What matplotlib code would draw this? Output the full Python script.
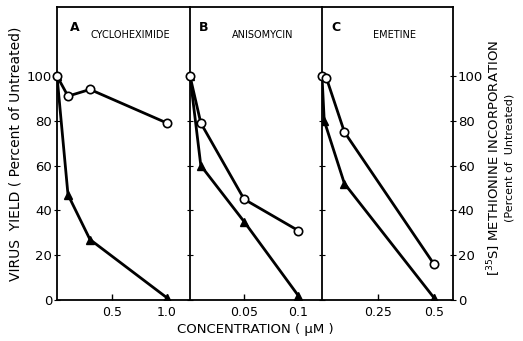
import matplotlib
matplotlib.use("Agg")
import matplotlib.pyplot as plt

# Panel A: cycloheximide
a_x_open = [0, 0.1, 0.3, 1.0]
a_y_open = [100, 91, 94, 79]
a_x_fill = [0, 0.1, 0.3, 1.0]
a_y_fill = [100, 47, 27, 1]
# Panel B: anisomycin
b_x_open = [0, 0.01, 0.05, 0.1]
b_y_open = [100, 79, 45, 31]
b_x_fill = [0, 0.01, 0.05, 0.1]
b_y_fill = [100, 60, 35, 2]
# Panel C: emetine
c_x_open = [0, 0.02, 0.1, 0.5]
c_y_open = [100, 99, 75, 16]
c_x_fill = [0, 0.01, 0.1, 0.5]
c_y_fill = [100, 80, 52, 1]

panels = [
    ("A", "CYCLOHEXIMIDE", a_x_open, a_y_open, a_x_fill, a_y_fill, [0.5, 1.0], ["0.5", "1.0"], 1.21),
    ("B", "ANISOMYCIN", b_x_open, b_y_open, b_x_fill, b_y_fill, [0.05, 0.1], ["0.05", "0.1"], 0.122),
    ("C", "EMETINE", c_x_open, c_y_open, c_x_fill, c_y_fill, [0.25, 0.5], ["0.25", "0.5"], 0.585),
]
yticks = [0, 20, 40, 60, 80, 100]

W, H = 523, 341
fig = plt.figure(figsize=(W / 100, H / 100), dpi=100)
lefts = [57, 190, 322]
rights = [190, 322, 453]
bottom, top = 300, 7
axes = []
for i, (letter, name, xo, yo, xf, yf, xt, xtl, xmax) in enumerate(panels):
    ax = fig.add_axes([lefts[i] / W, 1 - bottom / H, (rights[i] - lefts[i]) / W, (bottom - top) / H])
    ax.plot(xf, yf, color="black", lw=2, marker="^", ms=5.5, mfc="black", zorder=3)
    ax.plot(xo, yo, color="black", lw=2, marker="o", ms=6, mfc="white", mew=1.2, zorder=4, clip_on=False)
    ax.set_xlim(0, xmax)
    ax.set_ylim(0, 130.8)
    ax.set_xticks(xt)
    ax.set_xticklabels(xtl, fontsize=9)
    ax.tick_params(axis="x", direction="in", length=4, width=1, pad=4)
    ax.set_yticks(yticks)
    for s in ax.spines.values():
        s.set_linewidth(1.3)
    if i == 0:
        ax.tick_params(axis="y", direction="inout", length=5, labelsize=9.5, pad=1)
        ax.set_ylabel("VIRUS  YIELD ( Percent of Untreated)", fontsize=10, labelpad=3)
        ax.spines["right"].set_visible(False)
    elif i == 1:
        ax.tick_params(axis="y", direction="inout", length=5, labelleft=False)
        ax.spines["right"].set_visible(False)
    else:
        ax.tick_params(axis="y", direction="inout", length=5, labelleft=False,
                       right=True, labelright=True, labelsize=9.5, pad=1)
    ax.text(0.1 if i == 0 else 0.07, 0.93, letter, transform=ax.transAxes, fontsize=9, fontweight="bold", va="center")
    ax.text(0.55, 0.905, name, transform=ax.transAxes, fontsize=7, ha="center", va="center")
    axes.append(ax)

fig.text(255 / W, 1 - 330 / H, "CONCENTRATION ( \u03bcM )", ha="center", va="center", fontsize=9.5)
fig.text(494 / W, 1 - 158 / H, "[$^{35}$S] METHIONINE INCORPORATION", rotation=90, ha="center", va="center", fontsize=9.5)
fig.text(510 / W, 1 - 158 / H, "(Percent of  Untreated)", rotation=90, ha="center", va="center", fontsize=8)

fig.savefig("out.png", dpi=100)
